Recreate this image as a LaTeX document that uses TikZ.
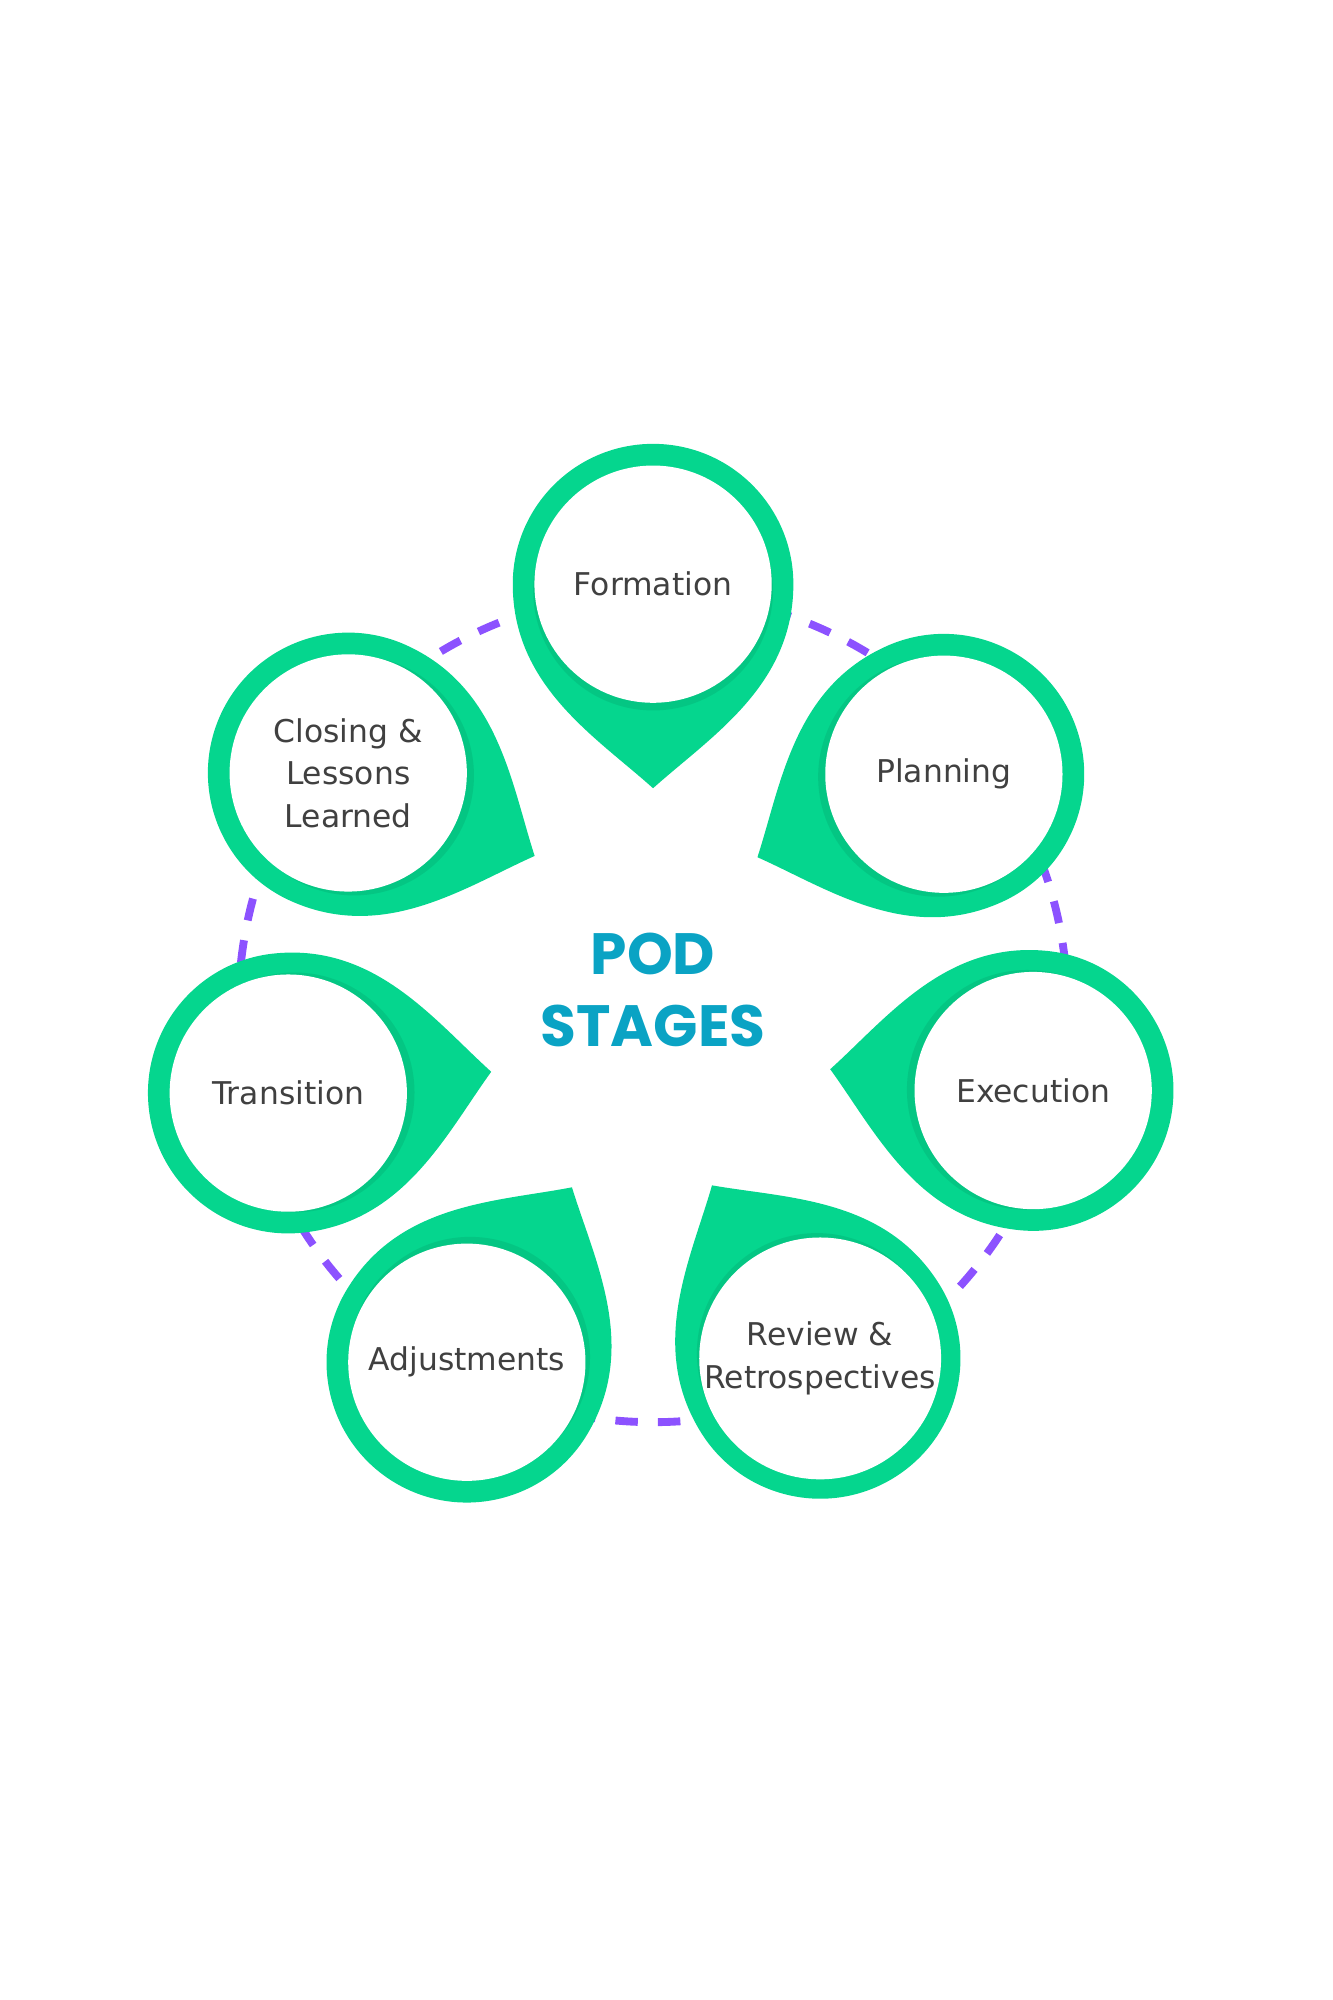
\documentclass[tikz,border=0pt]{standalone}
\usepackage{fontspec}
\setmainfont{DejaVu Sans}
\newfontfamily\titlefont{Poppins}
\usetikzlibrary{calc}
\definecolor{dropgreen}{RGB}{5,214,142}
\definecolor{ringpurple}{RGB}{140,82,255}
\definecolor{titleblue}{RGB}{10,163,196}
\definecolor{labelgray}{RGB}{64,64,64}

% teardrop: #1 name, #2 centre, #3 tip angle, #4 label
\newcommand{\stagedrop}[4]{%
  \coordinate (#1) at #2;
  \coordinate (#1-tip) at ($(#1)+(#3:160)$);
  \fill[dropgreen] ($(#1)+(#3+90:110)$) arc[start angle=#3+90, end angle=#3+270, radius=110]
    .. controls ($(#1)+(#3-90:110)+(#3:80)$) and ($(#1-tip)+(#3+228:60)$) .. (#1-tip)
    .. controls ($(#1-tip)+(#3+132:60)$) and ($(#1)+(#3+90:110)+(#3:80)$) .. cycle;
  \fill[black, opacity=.07] ($(#1)+(#3:5)$) circle[radius=94];
  \node[inner, font=\fontsize{14}{19}\selectfont] (#1-label) at (#1) {#4};
}

\begin{document}
\begin{tikzpicture}[x=0.02cm, y=0.02cm,
    inner/.style = {circle, fill=white, minimum size=186*0.02cm, inner sep=0pt, align=center, text=labelgray},
    ring/.style = {ringpurple, line width=3.5pt, dash pattern=on 10pt off 9pt}]
  \useasboundingbox (0,0) rectangle (1045,1568);

  \draw[ring] (512,778) circle[radius=325];

  \stagedrop{formation}{(512,1110)}{-90}{Formation}
  \stagedrop{planning}{(740,961)}{204}{Planning}
  \stagedrop{execution}{(810,713)}{174}{Execution}
  \stagedrop{review}{(643,503)}{122}{Review \&\\Retrospectives}
  \stagedrop{adjust}{(366,500)}{59}{Adjustments}
  \stagedrop{transition}{(226,711)}{6}{Transition}
  \stagedrop{closing}{(273,962)}{-24}{Closing \&\\Lessons\\Learned}

  \node[text=titleblue, font=\titlefont\bfseries\fontsize{26}{32}\selectfont, align=center] (title) at (512,792) {POD\\STAGES};
\end{tikzpicture}
\end{document}
